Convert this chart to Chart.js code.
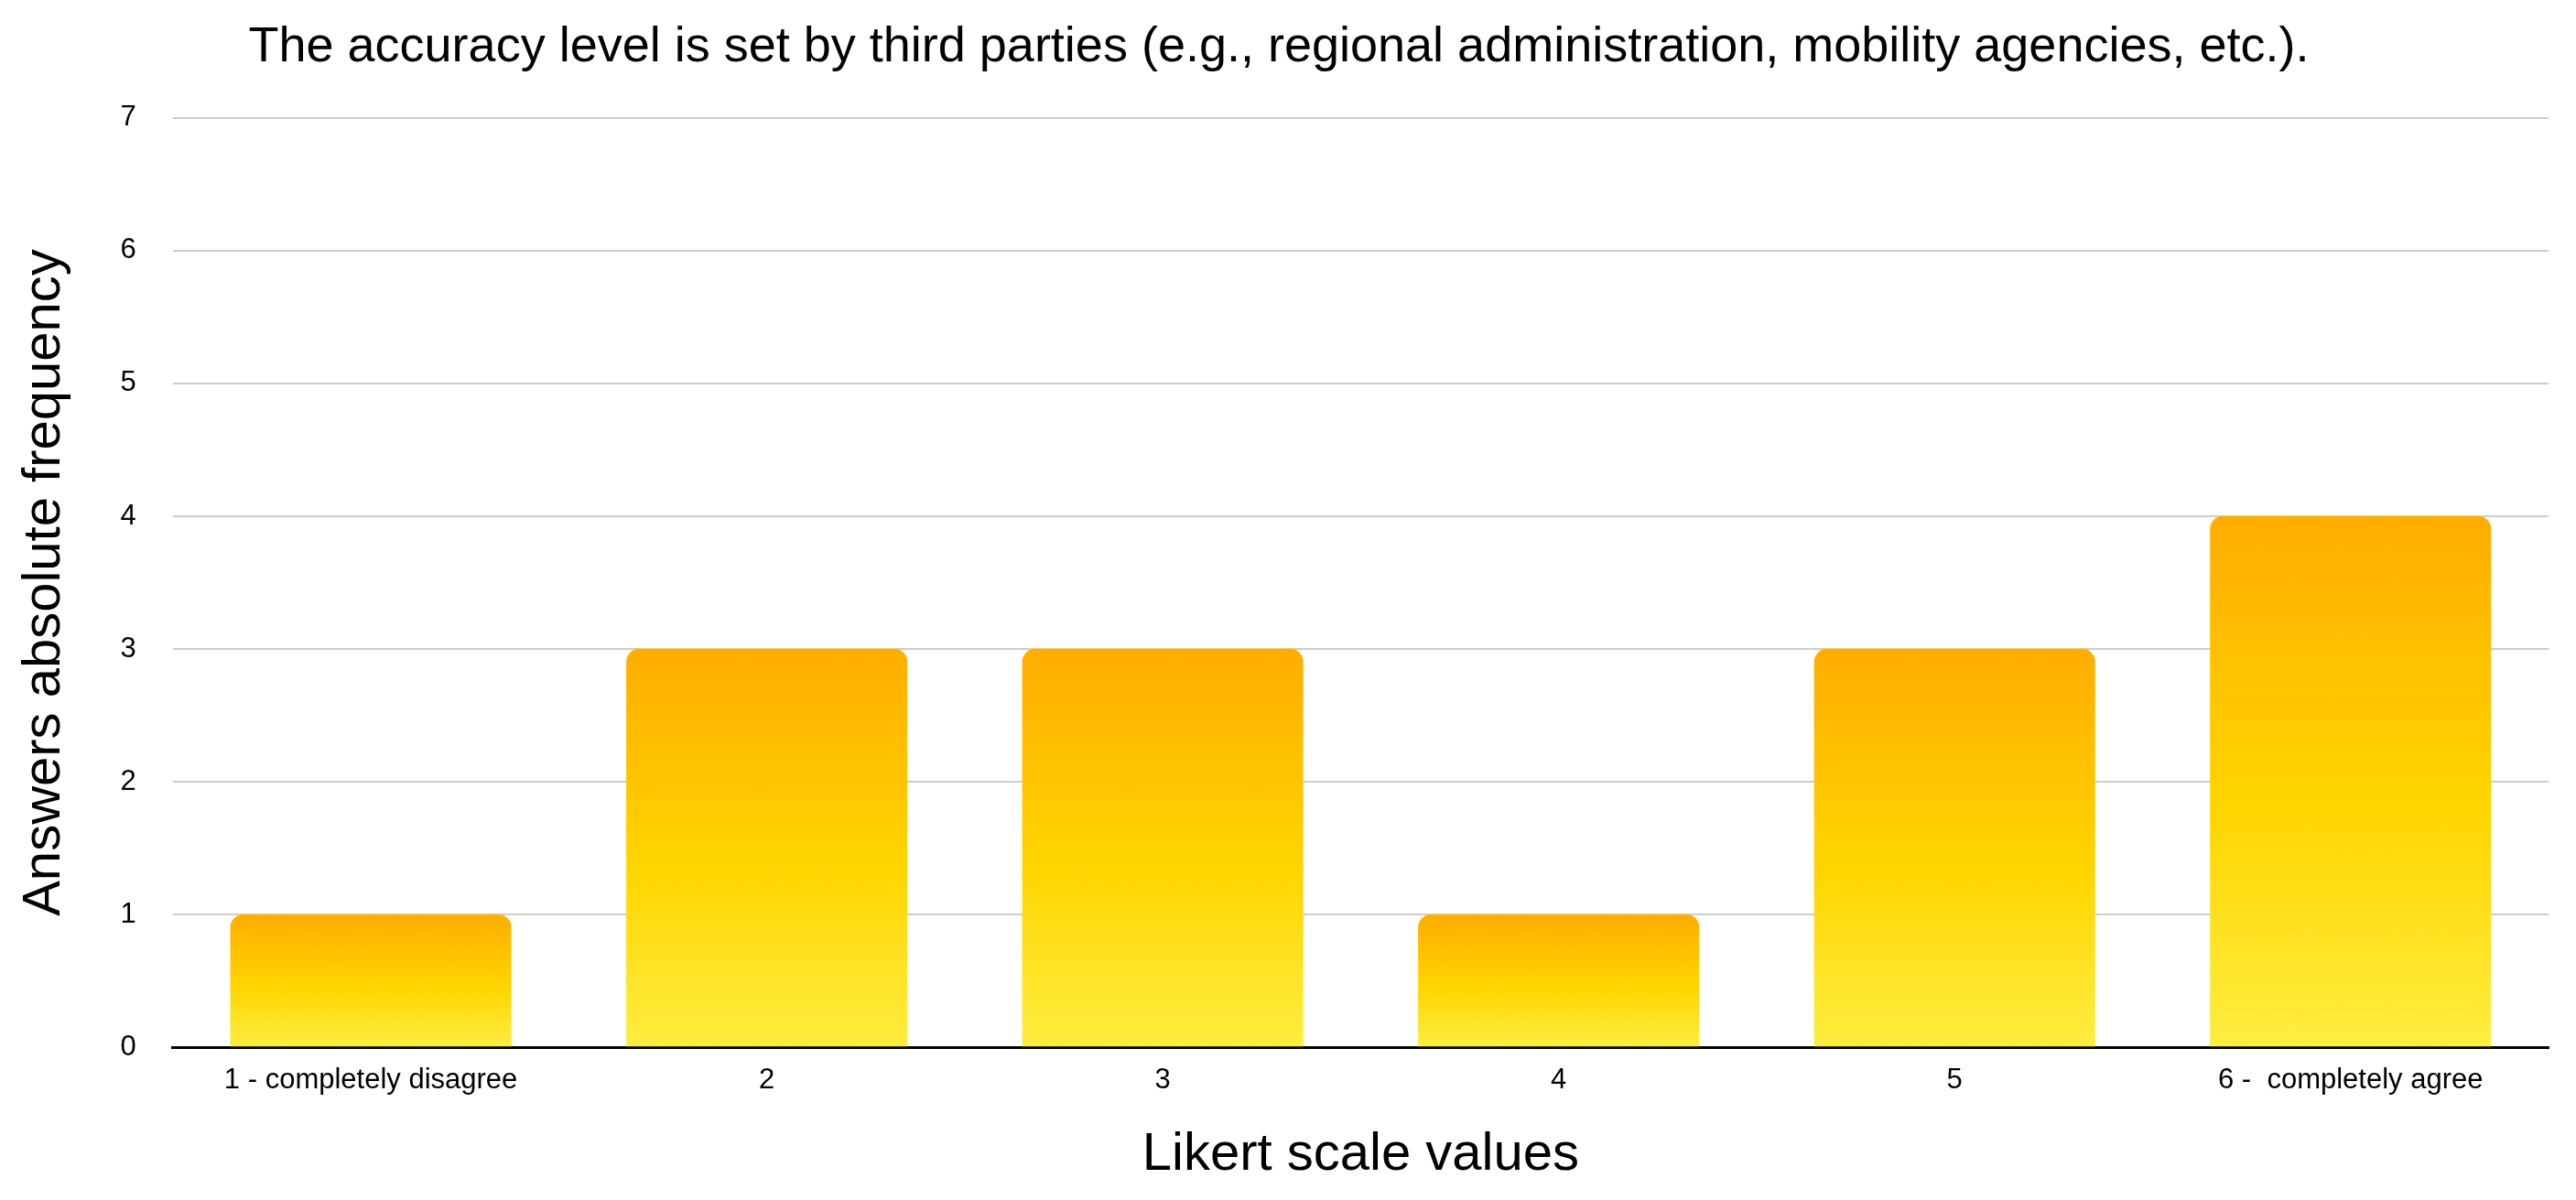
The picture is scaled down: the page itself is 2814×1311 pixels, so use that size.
<!DOCTYPE html>
<html>
<head>
<meta charset="utf-8">
<script src="https://cdn.jsdelivr.net/npm/chart.js@4.4.0/dist/chart.umd.min.js"></script>
<style>
  html, body { margin: 0; padding: 0; background: #fff; }
  #wrap { width: 2814px; height: 1311px; }
</style>
</head>
<body>
<div id="wrap"><canvas id="chart"></canvas></div>
<script>
const categories = ["1 - completely disagree", "2", "3", "4", "5", "6 -  completely agree"];
const answerCounts = [1, 3, 3, 1, 3, 4];
const yTicks = [0, 1, 2, 3, 4, 5, 6, 7];

// each bar gets its own gradient, orange at the top, light yellow at the base
function barGradient(context) {
    const chart = context.chart;
    const { ctx, chartArea, scales } = chart;
    if (!chartArea || context.type !== "data") return "#FFD500";
    const top = scales.y.getPixelForValue(context.raw);
    const bottom = scales.y.getPixelForValue(0);
    const g = ctx.createLinearGradient(0, top, 0, bottom);
    g.addColorStop(0, "#FFAD00");
    g.addColorStop(0.55, "#FFD500");
    g.addColorStop(1, "#FFED40");
    return g;
}

const font = "Liberation Sans, Arial, sans-serif";

new Chart(document.getElementById("chart").getContext("2d"), {
    type: "bar",
    data: {
        labels: categories,
        datasets: [
            {
                data: answerCounts,
                backgroundColor: barGradient,
                borderRadius: { topLeft: 14, topRight: 14 },
                borderSkipped: "bottom",
                categoryPercentage: 0.71,
                barPercentage: 1.0,
            },
        ],
    },
    options: {
        responsive: true,
        maintainAspectRatio: false,
        animation: false,
        layout: { padding: { left: 10, right: 30, top: 10, bottom: 10 } },
        plugins: {
            legend: { display: false },
            tooltip: { enabled: false },
            title: {
                display: true,
                text: "The accuracy level is set by third parties (e.g., regional administration, mobility agencies, etc.).",
                color: "#000",
                font: { family: font, size: 54, weight: "normal" },
                padding: { top: 10, bottom: 44 },
            },
        },
        scales: {
            x: {
                grid: { display: false, drawTicks: false },
                border: { color: "#000", width: 3 },
                ticks: {
                    color: "#000",
                    font: { family: font, size: 31 },
                    padding: 18,
                    maxRotation: 0,
                    autoSkip: false,
                },
                title: {
                    display: true,
                    text: "Likert scale values",
                    color: "#000",
                    font: { family: font, size: 58 },
                    padding: { top: 10 },
                },
            },
            y: {
                min: 0,
                max: yTicks[yTicks.length - 1],
                afterBuildTicks: (axis) => {
                    axis.ticks = yTicks.map((v) => ({ value: v }));
                },
                grid: { color: "#cccccc", lineWidth: 2, drawTicks: false },
                border: { display: false },
                ticks: {
                    color: "#000",
                    font: { family: font, size: 31 },
                    padding: 40,
                },
                title: {
                    display: true,
                    text: "Answers absolute frequency",
                    color: "#000",
                    font: { family: font, size: 58 },
                    padding: { bottom: 8 },
                },
            },
        },
    },
});
</script>
</body>
</html>
